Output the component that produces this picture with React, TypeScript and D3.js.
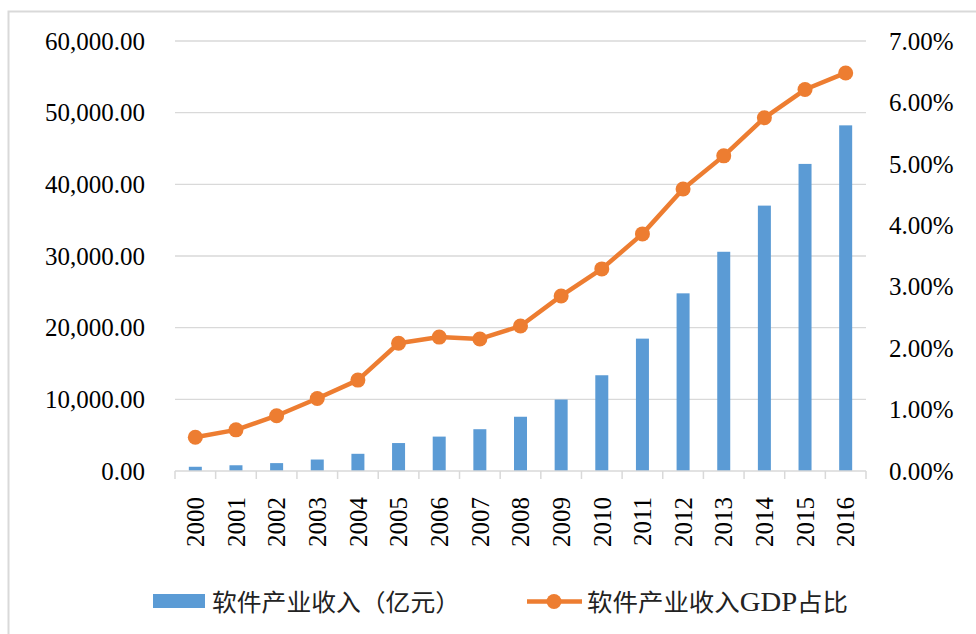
import { useEffect, useRef } from "react";
import * as d3 from "d3";

const years = [
  "2000", "2001", "2002", "2003", "2004", "2005", "2006", "2007", "2008",
  "2009", "2010", "2011", "2012", "2013", "2014", "2015", "2016",
];

// 软件产业收入（亿元）
const revenue = [
  590, 800, 1100, 1600, 2400, 3900, 4800, 5830, 7570, 9970, 13360, 18470,
  24790, 30590, 37030, 42850, 48230,
];

// 软件产业收入GDP占比 (%)
const gdpShare = [
  0.55, 0.67, 0.9, 1.18, 1.48, 2.08, 2.18, 2.15, 2.36, 2.85, 3.29, 3.86,
  4.59, 5.13, 5.75, 6.21, 6.48,
];

const leftTicks = [0, 10000, 20000, 30000, 40000, 50000, 60000];
const rightTicks = [0, 1, 2, 3, 4, 5, 6, 7];

const barName = "软件产业收入（亿元）";
const lineNameParts = ["软件产业收入", "GDP", "占比"];

const BLUE = "#5b9bd5";
const ORANGE = "#ed7d31";
const GRID = "#d9d9d9";
const FONT = "'Liberation Serif', 'Times New Roman', serif";
const CJK = "'Noto Sans CJK SC', sans-serif";

const App = () => {
  const ref = useRef<SVGSVGElement | null>(null);

  useEffect(() => {
    const width = 976;
    const height = 634;
    const margin = { top: 41, right: 110, bottom: 163, left: 175 };

    const svg = d3.select(ref.current);
    svg.selectAll("*").remove();

    // outer chart frame
    svg
      .append("rect")
      .attr("x", 8.5)
      .attr("y", 11.5)
      .attr("width", 1000)
      .attr("height", 700)
      .attr("fill", "white")
      .attr("stroke", GRID)
      .attr("stroke-width", 2);

    const x = d3
      .scaleBand()
      .domain(years)
      .range([margin.left, width - margin.right]);

    const y = d3
      .scaleLinear()
      .domain([0, 60000])
      .range([height - margin.bottom, margin.top]);

    const y2 = d3
      .scaleLinear()
      .domain([0, 7])
      .range([height - margin.bottom, margin.top]);

    // gridlines
    svg
      .append("g")
      .selectAll("line")
      .data(leftTicks.slice(1))
      .join("line")
      .attr("x1", margin.left)
      .attr("x2", width - margin.right)
      .attr("y1", (d) => y(d))
      .attr("y2", (d) => y(d))
      .attr("stroke", GRID)
      .attr("stroke-width", 1.3);

    // left axis labels
    svg
      .append("g")
      .selectAll("text")
      .data(leftTicks)
      .join("text")
      .attr("x", margin.left - 30)
      .attr("y", (d) => y(d))
      .attr("dy", "0.35em")
      .attr("text-anchor", "end")
      .attr("font-family", FONT)
      .attr("font-size", 25)
      .attr("fill", "#000")
      .text((d) => d3.format(",.2f")(d));

    // right axis labels
    svg
      .append("g")
      .selectAll("text")
      .data(rightTicks)
      .join("text")
      .attr("x", width - margin.right + 23)
      .attr("y", (d) => y2(d))
      .attr("dy", "0.35em")
      .attr("text-anchor", "start")
      .attr("font-family", FONT)
      .attr("font-size", 25)
      .attr("fill", "#000")
      .text((d) => d.toFixed(2) + "%");

    // bars
    const barW = 13;
    svg
      .append("g")
      .selectAll("rect")
      .data(revenue)
      .join("rect")
      .attr("x", (_, i) => x(years[i])! + x.bandwidth() / 2 - barW / 2)
      .attr("y", (d) => y(d))
      .attr("width", barW)
      .attr("height", (d) => y(0) - y(d))
      .attr("fill", BLUE);

    // bottom axis
    const base = y(0);
    svg
      .append("line")
      .attr("x1", margin.left)
      .attr("x2", width - margin.right)
      .attr("y1", base)
      .attr("y2", base)
      .attr("stroke", GRID)
      .attr("stroke-width", 1.5);

    const tickPos = years.map((yr) => x(yr)!).concat([width - margin.right]);
    svg
      .append("g")
      .selectAll("line")
      .data(tickPos)
      .join("line")
      .attr("x1", (d) => d)
      .attr("x2", (d) => d)
      .attr("y1", base)
      .attr("y2", base + 8)
      .attr("stroke", GRID)
      .attr("stroke-width", 1.5);

    svg
      .append("g")
      .selectAll("text")
      .data(years)
      .join("text")
      .attr(
        "transform",
        (d) => `translate(${x(d)! + x.bandwidth() / 2},${base + 26}) rotate(-90)`
      )
      .attr("dy", "0.35em")
      .attr("text-anchor", "end")
      .attr("font-family", FONT)
      .attr("font-size", 25)
      .attr("fill", "#000")
      .text((d) => d);

    // line series
    const line = d3
      .line<number>()
      .x((_, i) => x(years[i])! + x.bandwidth() / 2)
      .y((d) => y2(d));

    svg
      .append("path")
      .datum(gdpShare)
      .attr("fill", "none")
      .attr("stroke", ORANGE)
      .attr("stroke-width", 4.5)
      .attr("stroke-linejoin", "round")
      .attr("d", line);

    svg
      .append("g")
      .selectAll("circle")
      .data(gdpShare)
      .join("circle")
      .attr("cx", (_, i) => x(years[i])! + x.bandwidth() / 2)
      .attr("cy", (d) => y2(d))
      .attr("r", 7.5)
      .attr("fill", ORANGE);

    // legend
    const lg = svg.append("g");
    lg.append("rect")
      .attr("x", 153)
      .attr("y", 594)
      .attr("width", 52)
      .attr("height", 14)
      .attr("fill", BLUE);
    lg.append("text")
      .attr("x", 212)
      .attr("y", 611)
      .attr("font-family", CJK)
      .attr("font-size", 24)
      .attr("textLength", 248)
      .attr("lengthAdjust", "spacingAndGlyphs")
      .attr("fill", "#222")
      .text(barName);

    lg.append("line")
      .attr("x1", 527)
      .attr("x2", 582)
      .attr("y1", 601.5)
      .attr("y2", 601.5)
      .attr("stroke", ORANGE)
      .attr("stroke-width", 4.5);
    lg.append("circle")
      .attr("cx", 554)
      .attr("cy", 601.5)
      .attr("r", 7.5)
      .attr("fill", ORANGE);
    const t2 = lg
      .append("text")
      .attr("x", 587)
      .attr("y", 611)
      .attr("font-family", CJK)
      .attr("font-size", 24)
      .attr("textLength", 261)
      .attr("lengthAdjust", "spacingAndGlyphs")
      .attr("fill", "#222");
    lineNameParts.forEach((p, i) => {
      t2.append("tspan")
        .attr("font-family", i === 1 ? FONT : CJK)
        .attr("font-size", i === 1 ? 27 : 24)
        .text(p);
    });
  }, []);

  return (
    <svg
      ref={ref}
      width={976}
      height={634}
      style={{ position: "absolute", left: 0, top: 0, display: "block" }}
    ></svg>
  );
};

export default App;
